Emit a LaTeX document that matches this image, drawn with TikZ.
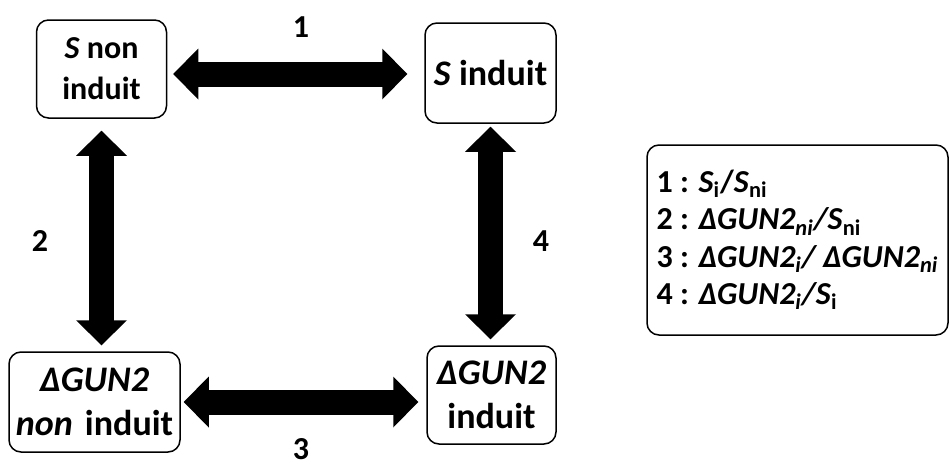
\documentclass[tikz,border=0pt]{standalone}
\usepackage{fontspec}
\setmainfont{Carlito}
\usetikzlibrary{arrows.meta}
\begin{document}
\begin{tikzpicture}[
        x=0.5pt, y=-0.5pt,
        box/.style={draw, rounded corners=6pt, line width=0.75pt, align=center, inner sep=0pt, font=\fontsize{18}{22}\selectfont\bfseries},
        num/.style={inner sep=0pt, font=\fontsize{16}{19}\selectfont\bfseries},
        fat/.style={line width=12.5pt, line cap=rect, {Triangle[length=12.5pt, width=25.5pt, line width=0pt]}-{Triangle[length=12.5pt, width=25.5pt, line width=0pt]}},
    ]
    \useasboundingbox (0,0) rectangle (949,466);
    \node[box, minimum width=65pt, minimum height=49pt, font=\fontsize{16}{20.5}\selectfont\bfseries](snon) at (101.5,69){\textit{S} non\\induit};
    \node[box, minimum width=65.5pt, minimum height=50pt](sind) at (490.5,73){\textit{S} induit};
    \node[box, minimum width=85.5pt, minimum height=50pt](gnon) at (94.5,402){\textit{ΔGUN2}\\\textit{non}\hspace{2pt} induit};
    \node[box, minimum width=64.5pt, minimum height=49pt](gind) at (491.5,395){\textit{ΔGUN2}\\induit};
    \node[box, align=left, minimum width=150.5pt, minimum height=95pt, font=\fontsize{16}{18.7}\selectfont\bfseries](leg) at (797.5,240){%
        1 : \textit{S}\textsubscript{i}/\textit{S}\textsubscript{ni}\\
        2 : \textit{ΔGUN2\textsubscript{ni}/S}\textsubscript{ni}\\
        3 : \textit{ΔGUN2\textsubscript{i}/ ΔGUN2\textsubscript{ni}}\\
        4 : \textit{ΔGUN2\textsubscript{i}/S}\textsubscript{i}};
    \draw[fat, shorten <=3pt, shorten >=8.5pt] ([yshift=-2.5pt]snon.east) -- ([yshift=-2.5pt]snon.east -| sind.west);
    \draw[fat, shorten <=1.5pt, shorten >=4pt] (gnon.east) -- (gnon.east -| gind.west);
    \draw[fat, shorten <=6pt, shorten >=3pt] (snon.south) -- (snon.south |- gnon.north);
    \draw[fat, shorten <=1.5pt, shorten >=3pt] (sind.south) -- (sind.south |- gind.north);
    \node[num](l1) at (301,27){1};
    \node[num](l2) at (40,241){2};
    \node[num](l3) at (301,449){3};
    \node[num](l4) at (541,241){4};
\end{tikzpicture}
\end{document}
